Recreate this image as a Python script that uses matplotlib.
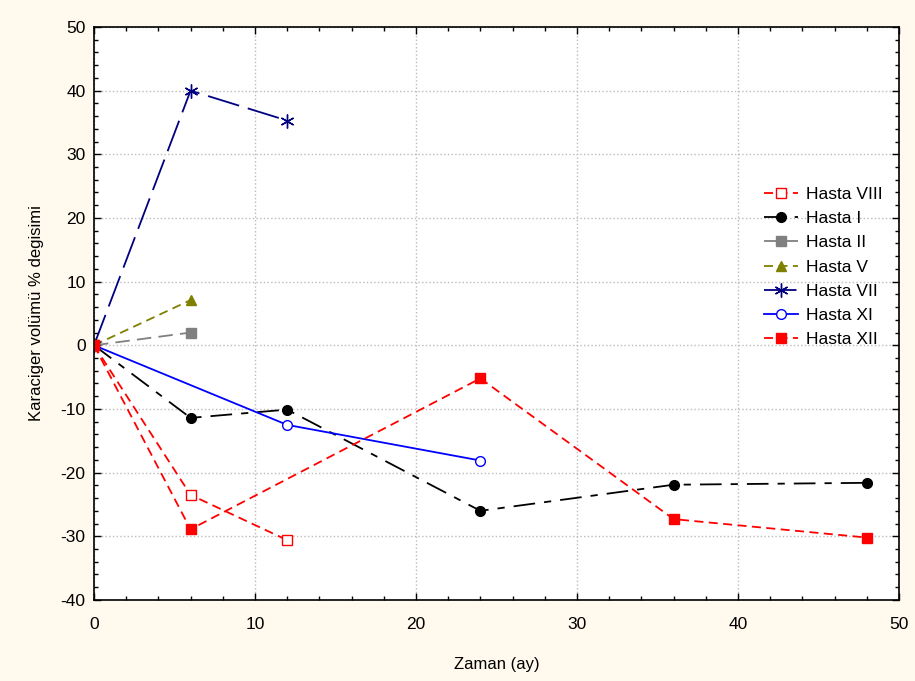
import matplotlib.pyplot as plt
from matplotlib.ticker import MultipleLocator

plt.rcParams['font.family'] = ['Liberation Sans', 'DejaVu Sans']
plt.rcParams['axes.unicode_minus'] = False

# months
x_viii = [0, 6, 12]
y_viii = [0, -23.5, -30.6]
x_i = [0, 6, 12, 24, 36, 48]
y_i = [0, -11.4, -10.1, -26.0, -21.9, -21.6]
x_ii = [0, 6]
y_ii = [0, 2.0]
x_v = [0, 6]
y_v = [0, 7.1]
x_vii = [0, 6, 12]
y_vii = [0, 40.0, 35.3]
x_xi = [0, 12, 24]
y_xi = [0, -12.5, -18.1]
x_xii = [0, 6, 24, 36, 48]
y_xii = [0, -28.9, -5.2, -27.3, -30.2]

fig = plt.figure(figsize=(9.15, 6.81), dpi=100, facecolor='#FFF9EE')
ax = fig.add_axes([0.1027, 0.119, 0.8798, 0.8414])
ax.set_facecolor('white')

ax.plot(x_viii, y_viii, color='red', lw=1.3, dashes=(5, 3), marker='s', ms=7,
        mfc='white', mec='red', label='Hasta VIII')
ax.plot(x_i, y_i, color='black', lw=1.3, dashes=(12, 5, 4, 5), marker='o', ms=7,
        mfc='black', mec='black', label='Hasta I')
ax.plot(x_ii, y_ii, color='gray', lw=1.3, dashes=(8, 4), marker='s', ms=7,
        mfc='gray', mec='gray', label='Hasta II')
ax.plot(x_v, y_v, color='olive', lw=1.3, dashes=(5, 3), marker='^', ms=7,
        mfc='olive', mec='olive', label='Hasta V')
ax.plot(x_vii, y_vii, color='navy', lw=1.3, dashes=(18, 5), marker=(6, 2, 0), ms=10,
        mec='navy', mew=1.0, label='Hasta VII')
ax.plot(x_xi, y_xi, color='blue', lw=1.3, marker='o', ms=7,
        mfc='white', mec='blue', label='Hasta XI')
ax.plot(x_xii, y_xii, color='red', lw=1.3, dashes=(5, 3), marker='s', ms=7,
        mfc='red', mec='red', label='Hasta XII')

ax.set_xlim(0, 50)
ax.set_ylim(-40, 50)
ax.xaxis.set_major_locator(MultipleLocator(10))
ax.xaxis.set_minor_locator(MultipleLocator(2))
ax.yaxis.set_major_locator(MultipleLocator(10))
ax.yaxis.set_minor_locator(MultipleLocator(2))
ax.tick_params(which='both', direction='in', top=True, right=True,
               labelsize=12.5, color='black')
ax.tick_params(which='major', length=5, width=1, pad=6)
ax.tick_params(which='minor', length=3, width=1)
ax.tick_params(axis='x', which='major', pad=12)
ax.grid(True, which='major', color='#bbbbbb', linestyle=':', linewidth=1)
for s in ax.spines.values():
    s.set_linewidth(1.2)

ax.set_xlabel('Zaman (ay)', fontsize=12, labelpad=18)
ax.set_ylabel('Karaciger volümü % degisimi', fontsize=12, labelpad=12)

ax.legend(loc='upper left', bbox_to_anchor=(0.8236, 0.733), frameon=False,
          fontsize=12.5, handlelength=1.95, labelspacing=0.52, borderaxespad=0,
          handletextpad=0.5)

fig.savefig('out.png', dpi=100, facecolor=fig.get_facecolor())
